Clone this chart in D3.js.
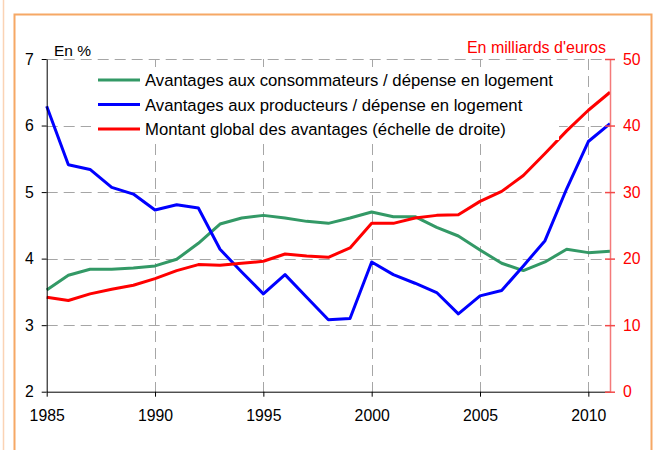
<!DOCTYPE html>
<html>
<head>
<meta charset="utf-8">
<script src="https://cdn.jsdelivr.net/npm/d3@7"></script>
<style>
  html, body { margin: 0; padding: 0; background: #fff; }
  svg { display: block; font-family: "Liberation Sans", Arial, sans-serif; }
</style>
</head>
<body>
<svg id="chart" width="654" height="450"></svg>
<script>
const years = d3.range(1985, 2012);
const consommateurs = [3.53, 3.75, 3.84, 3.84, 3.86, 3.89, 3.99, 4.23, 4.52, 4.61, 4.65, 4.61, 4.56, 4.53, 4.61, 4.70, 4.63, 4.63, 4.47, 4.34, 4.13, 3.93, 3.82, 3.95, 4.14, 4.09, 4.11];
const producteurs = [6.29, 5.41, 5.34, 5.07, 4.97, 4.73, 4.81, 4.76, 4.14, 3.80, 3.47, 3.76, 3.42, 3.08, 3.10, 3.95, 3.76, 3.63, 3.49, 3.17, 3.44, 3.52, 3.89, 4.27, 5.05, 5.76, 6.03];
const montant = [14.2, 13.7, 14.7, 15.4, 16.0, 17.0, 18.2, 19.1, 19.0, 19.3, 19.6, 20.7, 20.4, 20.2, 21.6, 25.3, 25.3, 26.1, 26.5, 26.6, 28.6, 30.1, 32.5, 35.8, 39.2, 42.3, 45.0];
const xTicks = [1985, 1990, 1995, 2000, 2005, 2010];
const yLeftTicks = [2, 3, 4, 5, 6, 7];
const yRightTicks = [0, 10, 20, 30, 40, 50];
const legendLabels = [
  "Avantages aux consommateurs / dépense en logement",
  "Avantages aux producteurs / dépense en logement",
  "Montant global des avantages (échelle de droite)"
];
const colors = ["#339966", "#0000ff", "#ff0000"];

const svg = d3.select("#chart");

// frame
svg.append("line").attr("x1", 3.5).attr("x2", 3.5).attr("y1", 0).attr("y2", 450)
  .attr("stroke", "#fbd3b5").attr("stroke-width", 1.5);
svg.append("path").attr("d", "M14.5,450 V14.5 H651.5 V450")
  .attr("fill", "none").attr("stroke", "#f6a865").attr("stroke-width", 2);

const x = d3.scaleLinear().domain([1985, 2011]).range([46.7, 610]);
const yL = d3.scaleLinear().domain([2, 7]).range([391.7, 59]);
const yR = d3.scaleLinear().domain([0, 50]).range([391.7, 59]);

// gridlines
const grid = svg.append("g").attr("stroke", "#a6a6a6").attr("stroke-width", 1).attr("stroke-dasharray", "11,6");
grid.selectAll("line.h").data(yLeftTicks.filter(d => d > 2)).join("line")
  .attr("x1", x(1985)).attr("x2", x(2011))
  .attr("y1", d => Math.round(yL(d)) + 0.5).attr("y2", d => Math.round(yL(d)) + 0.5);
grid.selectAll("line.v").data(xTicks.filter(d => d > 1985)).join("line")
  .attr("x1", d => Math.round(x(d)) + 0.5).attr("x2", d => Math.round(x(d)) + 0.5)
  .attr("y1", yL(7)).attr("y2", yL(2));

// lines
const lineL = d3.line().x((d, i) => x(years[i])).y(d => yL(d));
const lineR = d3.line().x((d, i) => x(years[i])).y(d => yR(d));
svg.append("path").attr("d", lineL(consommateurs)).attr("fill", "none")
  .attr("stroke", colors[0]).attr("stroke-width", 3).attr("stroke-linejoin", "round");
svg.append("path").attr("d", lineL(producteurs)).attr("fill", "none")
  .attr("stroke", colors[1]).attr("stroke-width", 3).attr("stroke-linejoin", "round");
svg.append("path").attr("d", lineR(montant)).attr("fill", "none")
  .attr("stroke", colors[2]).attr("stroke-width", 3).attr("stroke-linejoin", "round");

// axes
const tickFont = "15.8px";
const axL = svg.append("g").attr("transform", `translate(${x(1985)},0)`)
  .call(d3.axisLeft(yL).tickValues(yLeftTicks).tickSize(5).tickSizeOuter(0).tickPadding(8).tickFormat(d3.format("d")));
axL.selectAll("text").attr("font-size", tickFont).attr("fill", "#000").attr("font-family", "Liberation Sans, Arial, sans-serif");
axL.selectAll("line, path").attr("stroke", "#000");

const axB = svg.append("g").attr("transform", `translate(0,${yL(2)})`)
  .call(d3.axisBottom(x).tickValues(xTicks).tickSize(5).tickSizeOuter(0).tickPadding(13).tickFormat(d3.format("d")));
axB.selectAll("text").attr("font-size", tickFont).attr("fill", "#000").attr("font-family", "Liberation Sans, Arial, sans-serif");
axB.selectAll("line, path").attr("stroke", "#000");

const axR = svg.append("g").attr("transform", `translate(${x(2011)},0)`)
  .call(d3.axisRight(yR).tickValues(yRightTicks).tickSize(5).tickSizeOuter(0).tickPadding(8).tickFormat(d3.format("d")));
axR.select("path.domain").attr("stroke", "#f47a7a").attr("stroke-width", 1.5);
axR.selectAll(".tick line").attr("x1", -5).attr("x2", 5).attr("stroke", "#f24a4a").attr("stroke-width", 1.5);
axR.selectAll("text").attr("font-size", tickFont).attr("fill", "#ff0000").attr("font-family", "Liberation Sans, Arial, sans-serif");

// axis titles
svg.append("text").attr("x", 54).attr("y", 56).attr("font-size", "15.5px").attr("fill", "#000").text("En %");
svg.append("text").attr("x", 606).attr("y", 53).attr("text-anchor", "end").attr("font-size", "16px").attr("fill", "#ff0000").text("En milliards d'euros");

// legend
const lg = svg.append("g");
lg.append("rect").attr("x", 91).attr("y", 67).attr("width", 468).attr("height", 73).attr("fill", "#fff");
const rows = lg.selectAll("g.row").data(legendLabels).join("g")
  .attr("transform", (d, i) => `translate(0,${80 + i * 24.5})`);
rows.append("line").attr("x1", 98).attr("x2", 140).attr("y1", 0).attr("y2", 0)
  .attr("stroke", (d, i) => colors[i]).attr("stroke-width", 3);
rows.append("text").attr("x", 145).attr("y", 0).attr("dy", "0.36em").attr("font-size", "16.7px")
  .attr("fill", "#000").text(d => d);
</script>
</body>
</html>
